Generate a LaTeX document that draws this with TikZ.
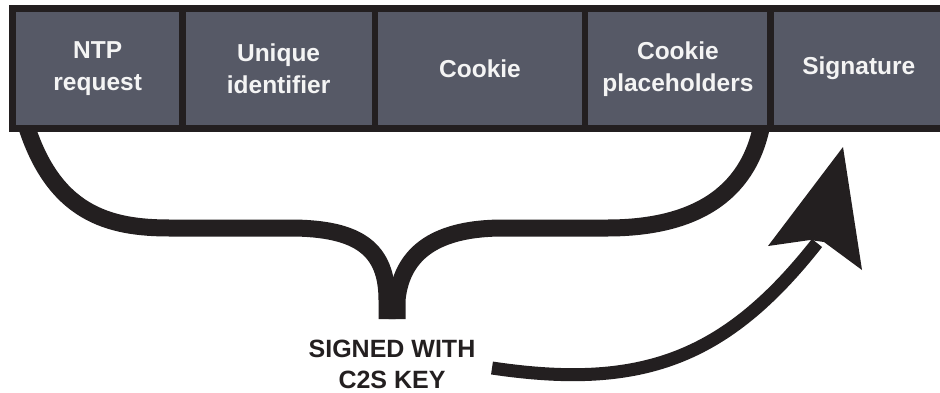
\documentclass[tikz,border=0pt]{standalone}
\usepackage{fontspec}
\setmainfont{Liberation Sans}
\usetikzlibrary{positioning}
\definecolor{framegray}{HTML}{231F20}
\definecolor{cellgray}{HTML}{565966}
\definecolor{labelwhite}{HTML}{F4F4F4}
\tikzstyle{field} = [rectangle, minimum height=113pt, inner sep=0pt, text centered, align=center, fill=cellgray, text=labelwhite, font=\bfseries\fontsize{24.5}{32}\selectfont]
\tikzstyle{caption} = [inner sep=0pt, align=center, text=framegray, font=\bfseries\fontsize{25}{31}\selectfont]
\tikzstyle{brace} = [line width=17pt, draw=framegray, line join=round]
\tikzstyle{arrow} = [line width=13pt, draw=framegray]

\begin{document}
\begin{tikzpicture}[x=1pt, y=-1pt]
\useasboundingbox (0,0) rectangle (940,392);

%% BRACE

\draw [brace] (24,118) .. controls (52,215) and (110,228) .. (170,228) -- (290,228)
  .. controls (360,228) and (387,250) .. (387,300) -- (387,319);
\draw [brace] (397,319) -- (397,300) .. controls (402,250) and (440,228) .. (503,228)
  -- (607,228) .. controls (700,228) and (752,190) .. (763,118);

%% FIELDS

\fill [framegray] (9,5) rectangle (940,132);
\node (ntp) [field, minimum width=163pt, anchor=north west] at (16,12) {NTP\\request};
\node (uid) [field, minimum width=186pt, right=6pt of ntp] {Unique\\identifier};
\node (cookie) [field, minimum width=204pt, right=6pt of uid] {Cookie};
\node (holders) [field, minimum width=179pt, right=6pt of cookie] {Cookie\\placeholders};
\node (sig) [field, minimum width=170pt, right=6pt of holders] {Signature};

%% CAPTION AND ARROW

\node (signed) [caption, anchor=north] at (392,339.5) {SIGNED WITH\\C2S KEY};
\coordinate (arrowstart) at (492,368);
\coordinate (arrowend) at (817,243);
\draw [arrow] (arrowstart) .. controls (640,390) and (725,360) .. (arrowend);
\fill [framegray] (843,147) -- (862,270) -- (824,242) -- (810,240) -- (768,246) -- cycle;

\end{tikzpicture}
\end{document}
